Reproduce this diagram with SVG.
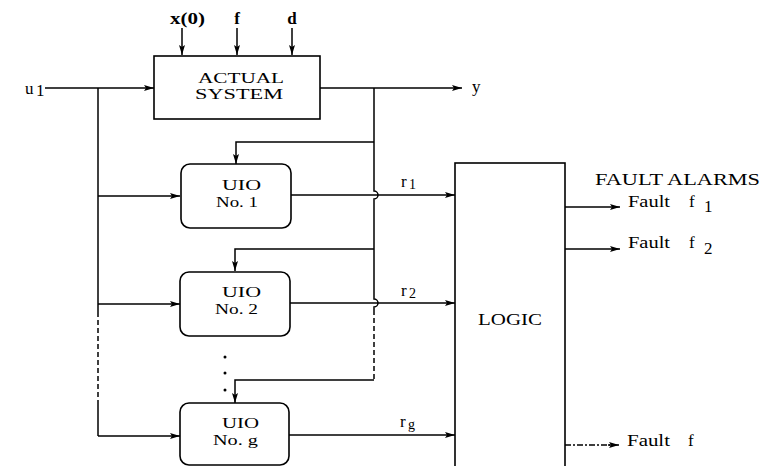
<svg xmlns="http://www.w3.org/2000/svg" width="762" height="466" viewBox="0 0 762 466">
<defs>
<style>
.ln{fill:none;stroke:#000;stroke-width:1.5}
.dash{stroke-dasharray:5 3}
.dd{stroke-dasharray:6 2 2 2}
.box{fill:#fff;stroke:#000;stroke-width:1.6}
text{font-family:"Liberation Serif","Times New Roman",serif;fill:#000;font-size:17px}
.t2{font-size:15px}
.b{font-weight:bold}
.m{text-anchor:middle}
</style>
<marker id="ah" markerUnits="userSpaceOnUse" markerWidth="11" markerHeight="7" refX="10" refY="3.5" orient="auto">
<path d="M0,0.5 L10,3.5 L0,6.5 L2,3.5 z" fill="#000"/>
</marker>
</defs>
<rect width="762" height="466" fill="#fff"/>

<g id="connectors">
<line class="ln" x1="182" y1="28" x2="182" y2="55" marker-end="url(#ah)"/>
<line class="ln" x1="237" y1="28" x2="237" y2="55" marker-end="url(#ah)"/>
<line class="ln" x1="292" y1="28" x2="292" y2="55" marker-end="url(#ah)"/>
<line class="ln" x1="45" y1="88" x2="154" y2="88" marker-end="url(#ah)"/>
<polyline class="ln" points="98,88 98,312"/>
<line class="ln dash" x1="98" y1="312" x2="98" y2="402"/>
<line class="ln" x1="98" y1="402" x2="98" y2="436"/>
<line class="ln" x1="98" y1="196" x2="180" y2="196" marker-end="url(#ah)"/>
<line class="ln" x1="98" y1="304" x2="180" y2="304" marker-end="url(#ah)"/>
<line class="ln" x1="98" y1="436" x2="180" y2="436" marker-end="url(#ah)"/>
<line class="ln" x1="320" y1="88" x2="462" y2="88" marker-end="url(#ah)"/>
<path class="ln" d="M374,88 L374,191 A4,4 0 0 1 374,199 L374,299 A4,4 0 0 1 374,307 L374,310"/>
<line class="ln dash" x1="374" y1="310" x2="374" y2="380"/>
<polyline class="ln" points="374,142 236,142 236,164" marker-end="url(#ah)"/>
<polyline class="ln" points="374,249 235,249 235,271" marker-end="url(#ah)"/>
<polyline class="ln" points="374,380 235,380 235,403" marker-end="url(#ah)"/>
<line class="ln" x1="291" y1="195" x2="455" y2="195" marker-end="url(#ah)"/>
<line class="ln" x1="290" y1="303" x2="455" y2="303" marker-end="url(#ah)"/>
<line class="ln" x1="289" y1="435" x2="455" y2="435" marker-end="url(#ah)"/>
<line class="ln" x1="565" y1="207" x2="620" y2="207" marker-end="url(#ah)"/>
<line class="ln" x1="565" y1="249" x2="620" y2="249" marker-end="url(#ah)"/>
<line class="ln dd" x1="565" y1="445" x2="610" y2="445"/>
<line class="ln" x1="608" y1="445" x2="619" y2="445" marker-end="url(#ah)"/>
</g>

<g id="actual-system">
<rect class="box" x="154" y="56" width="166" height="63"/>
<text x="241" y="83" class="m t2" textLength="86" lengthAdjust="spacingAndGlyphs">ACTUAL</text>
<text x="239" y="99" class="m t2" textLength="88" lengthAdjust="spacingAndGlyphs">SYSTEM</text>
</g>

<g id="uio1">
<rect class="box" x="181" y="164" width="110" height="64" rx="9"/>
<text x="222" y="190" class="t2" textLength="39" lengthAdjust="spacingAndGlyphs">UIO</text>
<text x="216" y="207" class="t2" textLength="42" lengthAdjust="spacingAndGlyphs">No. 1</text>
</g>

<g id="uio2">
<rect class="box" x="180" y="272" width="110" height="64" rx="9"/>
<text x="222" y="297" class="t2" textLength="39" lengthAdjust="spacingAndGlyphs">UIO</text>
<text x="215" y="314" class="t2" textLength="43" lengthAdjust="spacingAndGlyphs">No. 2</text>
</g>

<g id="dots">
<circle cx="225" cy="357" r="1.5" fill="#000"/>
<circle cx="225" cy="373" r="1.5" fill="#000"/>
<circle cx="225" cy="390" r="1.5" fill="#000"/>
</g>

<g id="uiog">
<rect class="box" x="180" y="403" width="109" height="62" rx="9"/>
<text x="222" y="428" class="t2" textLength="37" lengthAdjust="spacingAndGlyphs">UIO</text>
<text x="213" y="445" class="t2" textLength="45" lengthAdjust="spacingAndGlyphs">No. g</text>
</g>

<g id="logic">
<rect class="box" x="455" y="163" width="110" height="320"/>
<text x="510" y="325" class="m" textLength="64" lengthAdjust="spacingAndGlyphs">LOGIC</text>
</g>

<g id="labels">
<text x="170" y="24" class="b" font-size="16" textLength="35" lengthAdjust="spacingAndGlyphs">x(0)</text>
<text x="237" y="24" class="b m" font-size="16">f</text>
<text x="292" y="24" class="b m" font-size="16">d</text>
<text x="25" y="94">u<tspan x="36" y="96">1</tspan></text>
<text x="472" y="92" font-size="18">y</text>
<text x="401" y="187" font-size="17">r<tspan font-size="14" x="409" dy="2">1</tspan></text>
<text x="401" y="296" font-size="17">r<tspan font-size="14" x="409" dy="2">2</tspan></text>
<text x="400" y="427" font-size="17">r<tspan font-size="14" x="408" dy="2">g</tspan></text>
<text x="595" y="185" textLength="165" lengthAdjust="spacingAndGlyphs">FAULT ALARMS</text>
<text x="628" y="207" font-size="18" textLength="42" lengthAdjust="spacingAndGlyphs">Fault</text>
<text x="689" y="207" font-size="18">f<tspan x="704" dy="5">1</tspan></text>
<text x="628" y="248" font-size="18" textLength="42" lengthAdjust="spacingAndGlyphs">Fault</text>
<text x="689" y="248" font-size="18">f<tspan x="704" dy="6">2</tspan></text>
<text x="627" y="446" font-size="18" textLength="43" lengthAdjust="spacingAndGlyphs">Fault</text>
<text x="688" y="446" font-size="18">f</text>
</g>
</svg>
